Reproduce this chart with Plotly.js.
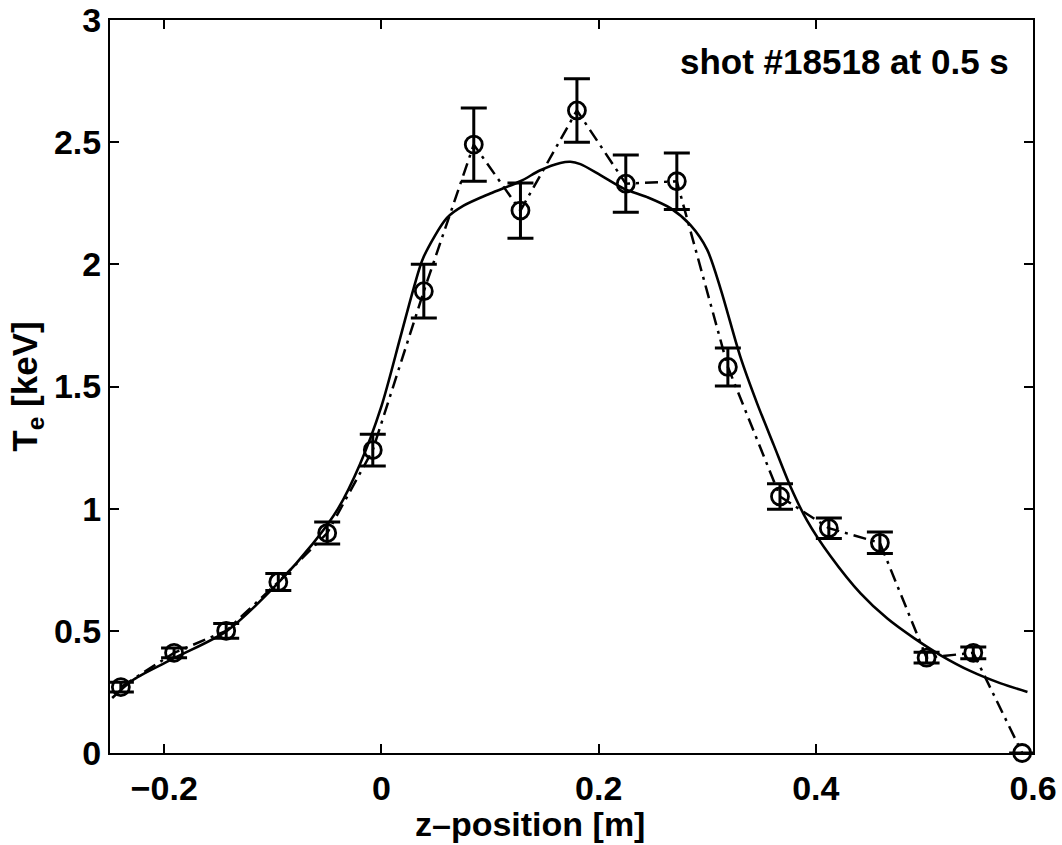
<!DOCTYPE html>
<html>
<head>
<meta charset="utf-8">
<script src="https://cdn.plot.ly/plotly-3.0.1.min.js"></script>
<style>
  html, body { margin: 0; padding: 0; background: #fff; }
  #chart { width: 1062px; height: 845px; }
</style>
</head>
<body>
<div id="chart"></div>
<script>
// Thomson scattering electron temperature profile, shot #18518 at 0.5 s
const zPos  = [-0.240, -0.191, -0.143, -0.095, -0.050, -0.008, 0.039, 0.085, 0.128, 0.180,
                0.225, 0.272, 0.319, 0.367, 0.412, 0.459, 0.502, 0.545, 0.590];
const teVal = [0.27, 0.41, 0.50, 0.70, 0.90, 1.24, 1.89, 2.49, 2.22, 2.63,
               2.33, 2.34, 1.58, 1.05, 0.92, 0.86, 0.39, 0.41, 0.00];
const teErr = [0.020, 0.020, 0.030, 0.035, 0.045, 0.065, 0.110, 0.150, 0.113, 0.130,
               0.117, 0.116, 0.078, 0.052, 0.042, 0.044, 0.022, 0.024, 0.000];

// smooth reconstructed profile
const fitZ  = [-0.248, -0.2285, -0.190, -0.1424, -0.0964, -0.0626, -0.040, -0.020, 0.000, 0.0173,
               0.0295, 0.0388, 0.0603, 0.0756, 0.1002, 0.1279, 0.1463, 0.1647, 0.1740, 0.1832,
               0.2016, 0.2231, 0.2447, 0.2661, 0.2846, 0.2999, 0.3123, 0.3306, 0.3460,
               0.3613, 0.3767, 0.3921, 0.4136, 0.4412, 0.4659, 0.4904, 0.5150, 0.5426, 0.5703, 0.5949];
const fitTe = [0.225, 0.300, 0.390, 0.500, 0.690, 0.860, 1.000, 1.180, 1.420, 1.700,
               1.900, 2.030, 2.190, 2.240, 2.290, 2.340, 2.385, 2.415, 2.420, 2.410,
               2.365, 2.310, 2.275, 2.230, 2.160, 2.060, 1.900, 1.620, 1.430,
               1.260, 1.090, 0.950, 0.805, 0.653, 0.550, 0.470, 0.400, 0.335, 0.285, 0.250];

const xTicks = [-0.2, 0, 0.2, 0.4, 0.6];
const yTicks = [0, 0.5, 1, 1.5, 2, 2.5, 3];

const FONT = 'Liberation Sans, Arial, Helvetica, sans-serif';
const TICK_SIZE = 34;

const traces = [
  {
    x: fitZ, y: fitTe,
    type: 'scatter', mode: 'lines',
    line: { color: '#000', width: 2.6, shape: 'spline', smoothing: 0.8 },
    hoverinfo: 'skip'
  },
  {
    x: zPos, y: teVal,
    type: 'scatter', mode: 'lines+markers',
    cliponaxis: false,
    line: { color: '#000', width: 2.5, dash: '13px,6px,3px,6px' },
    marker: { symbol: 'circle-open', size: 17, color: '#000', line: { color: '#000', width: 2.8 } },
    error_y: { type: 'data', array: teErr, visible: true, color: '#000', thickness: 3, width: 13 }
  }
];

const axisCommon = {
  showline: true, linecolor: '#000', linewidth: 2,
  mirror: 'ticks', ticks: 'inside', ticklen: 9, tickwidth: 2, tickcolor: '#000',
  showgrid: false, zeroline: false,
  tickfont: { family: FONT, size: TICK_SIZE, color: '#000', weight: 'bold' }
};

const layout = {
  width: 1062, height: 845,
  margin: { l: 110, r: 29, t: 20, b: 92, pad: 0 },
  paper_bgcolor: '#fff', plot_bgcolor: '#fff',
  showlegend: false,
  xaxis: Object.assign({}, axisCommon, {
    range: [-0.25, 0.6], tickvals: xTicks,
    ticktext: xTicks.map(v => v === 0 ? '0' : (v < 0 ? '\u2212' + Math.abs(v) : String(v))),
    ticklabelstandoff: 4
  }),
  yaxis: Object.assign({}, axisCommon, {
    range: [0, 3], tickvals: yTicks,
    ticktext: yTicks.map(v => String(v)),
    title: { text: 'T<sub>e</sub> [keV]', standoff: 6,
             font: { family: FONT, size: 35, color: '#000', weight: 'bold' } }
  }),
  annotations: [
    {
      // x-axis label
      text: 'z\u2013position [m]',
      xref: 'paper', yref: 'paper', x: 0.455, y: -0.097,
      xanchor: 'center', yanchor: 'middle', showarrow: false,
      font: { family: FONT, size: 34, color: '#000', weight: 'bold' }
    },
    {
      text: 'shot #18518 at 0.5 s',
      xref: 'paper', yref: 'paper', x: 0.976, y: 0.944,
      xanchor: 'right', yanchor: 'middle', showarrow: false,
      font: { family: FONT, size: 35, color: '#000', weight: 'bold' }
    }
  ]
};

Plotly.newPlot('chart', traces, layout, { staticPlot: true, displayModeBar: false });
</script>
</body>
</html>
